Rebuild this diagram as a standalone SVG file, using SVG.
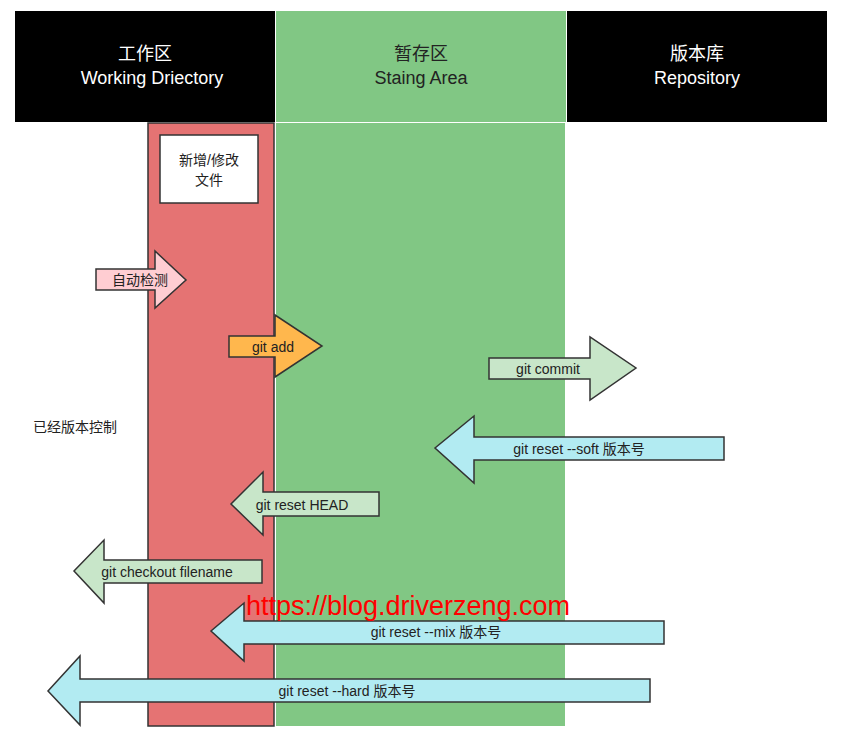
<svg xmlns="http://www.w3.org/2000/svg" width="848" height="743" viewBox="0 0 848 743">
<style>
text{font-family:"Liberation Sans","Noto Sans CJK SC",sans-serif;}
.h{fill:#fff;font-size:18px;text-anchor:middle}
.hd{fill:#222;font-size:18px;text-anchor:middle}
.a{stroke:#333;stroke-width:1.5}
.t{font-size:14px;fill:#222;text-anchor:middle}
.cy{fill:#b2ebf2}.lg{fill:#c8e6c9}
</style>
<rect width="848" height="743" fill="#fff"/>
<g id="headers">
<rect x="15" y="11" width="260" height="111" fill="#000"/>
<rect x="276" y="11" width="290" height="111" fill="#81c784"/>
<rect x="567" y="11" width="260" height="111" fill="#000"/>
<text class="h" x="145" y="60">工作区</text><text class="h" x="152" y="84">Working Driectory</text>
<text class="hd" x="421" y="60">暂存区</text><text class="hd" x="421" y="84">Staing Area</text>
<text class="h" x="697" y="60">版本库</text><text class="h" x="697" y="84">Repository</text>
</g>
<g id="columns">
<rect x="148" y="123" width="126" height="603" fill="#e57373" stroke="#333" stroke-width="1.5"/>
<rect x="276" y="123" width="289" height="603" fill="#81c784"/>
</g>
<g id="file-box">
<rect x="160" y="135" width="98" height="68" fill="#fff" stroke="#333" stroke-width="1.5"/>
<text class="t" x="209" y="165">新增/修改</text><text class="t" x="209" y="185">文件</text>
</g>
<text id="label" x="33" y="432" font-size="14" fill="#222">已经版本控制</text>
<g id="connectors">
<g id="auto"><polygon class="a" fill="#ffcdd2" points="96,269 155,269 155,251 186,280 155,308 155,290 96,290"/><text class="t" x="140" y="285">自动检测</text></g>
<g id="add"><polygon class="a" fill="#ffb74d" points="229,336 275,336 275,315 322,346 275,377 275,357 229,357"/><text class="t" x="273" y="352">git add</text></g>
<g id="commit"><polygon class="a lg" points="489,358 590,358 590,337 636,368 590,400 590,379 489,379"/><text class="t" x="548" y="374">git commit</text></g>
<g id="soft"><polygon class="a cy" points="724,437 474,437 474,416 435,448 474,483 474,460 724,460"/><text class="t" x="579" y="454">git reset --soft  版本号</text></g>
<g id="head"><polygon class="a lg" points="379,492 263,492 263,472 231,504 263,535 263,516 379,516"/><text class="t" x="302" y="510">git reset HEAD</text></g>
<g id="checkout"><polygon class="a lg" points="262,560 104,560 104,540 74,571 104,603 104,583 262,583"/><text class="t" x="167" y="577">git checkout filename</text></g>
<g id="mix"><polygon class="a cy" points="664,621 244,621 244,603 211,631 244,661 244,644 664,644"/><text class="t" x="436" y="637">git reset --mix  版本号</text></g>
<g id="hard"><polygon class="a cy" points="650,679 80,679 80,656 48,691 80,725 80,702 650,702"/><text class="t" x="347" y="696">git reset --hard  版本号</text></g>
</g>
<text x="408" y="615" font-size="27" fill="#ff0000" text-anchor="middle">https://blog.driverzeng.com</text>
</svg>
